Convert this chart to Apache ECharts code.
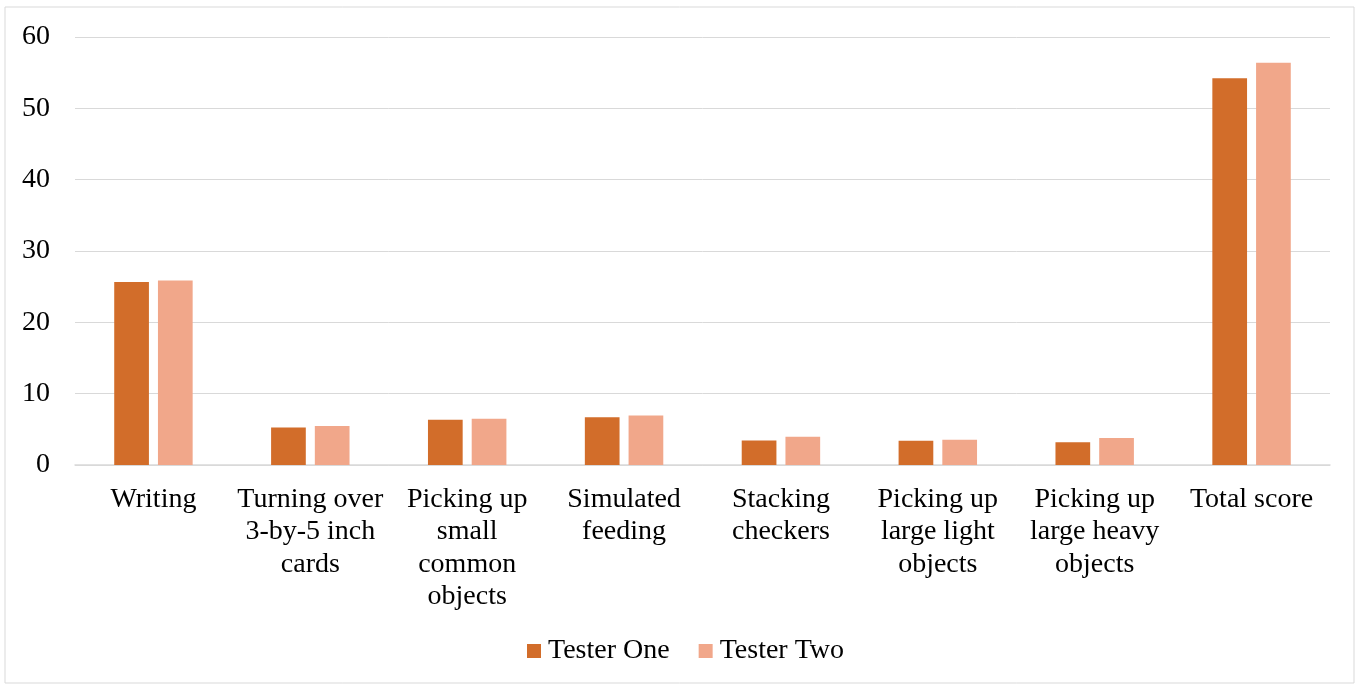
<!DOCTYPE html>
<html>
<head>
<meta charset="utf-8">
<script src="https://cdn.jsdelivr.net/npm/echarts@6/dist/echarts.min.js"></script>
<style>
  html, body { margin: 0; padding: 0; background: #fff; }
  #chart { width: 1359px; height: 686px; }
</style>
</head>
<body>
<div id="chart"></div>
<script>
// Task categories (line breaks as shown under the axis)
const categories = [
  'Writing',
  'Turning over\n3-by-5 inch\ncards',
  'Picking up\nsmall\ncommon\nobjects',
  'Simulated\nfeeding',
  'Stacking\ncheckers',
  'Picking up\nlarge light\nobjects',
  'Picking up\nlarge heavy\nobjects',
  'Total score'
];

// Mean scores per tester
const testerOne = [25.65, 5.25, 6.35, 6.7, 3.45, 3.4, 3.2, 54.2];
const testerTwo = [25.85, 5.45, 6.5, 6.95, 3.95, 3.55, 3.8, 56.4];

// Value axis range
const yMin = 0;
const yMax = 60;
const yStep = 10;

const FONT = '"Liberation Serif", "Times New Roman", serif';

const chart = echarts.init(document.getElementById('chart'));
chart.setOption({
  backgroundColor: '#fff',
  animation: false,
  graphic: [{
    type: 'rect',
    shape: { x: 5, y: 7, width: 1349, height: 676 },
    style: { fill: 'none', stroke: '#D9D9D9', lineWidth: 1 },
    silent: true
  }],
  grid: { left: 75, right: 29, top: 37, bottom: 221 },
  legend: {
    bottom: 16,
    left: 522,
    itemWidth: 14,
    itemHeight: 14,
    itemGap: 29,
    icon: 'rect',
    textStyle: { fontFamily: FONT, fontSize: 28, color: '#000', padding: [0, 0, 0, 2] },
    data: ['Tester One', 'Tester Two']
  },
  xAxis: {
    type: 'category',
    data: categories,
    axisLine: { lineStyle: { color: '#D9D9D9', width: 1.5 } },
    axisTick: { show: false },
    axisLabel: {
      interval: 0,
      margin: 18,
      fontFamily: FONT,
      fontSize: 28,
      lineHeight: 32.5,
      color: '#000'
    }
  },
  yAxis: {
    type: 'value',
    min: yMin,
    max: yMax,
    interval: yStep,
    axisLine: { show: false },
    axisTick: { show: false },
    splitLine: { lineStyle: { color: '#D9D9D9', width: 1 } },
    axisLabel: {
      margin: 25,
      fontFamily: FONT,
      fontSize: 28,
      color: '#000'
    }
  },
  series: [
    {
      name: 'Tester One',
      type: 'bar',
      data: testerOne,
      barGap: '26%',
      barCategoryGap: '50%',
      itemStyle: { color: '#D26D2A' }
    },
    {
      name: 'Tester Two',
      type: 'bar',
      data: testerTwo,
      barGap: '26%',
      barCategoryGap: '50%',
      itemStyle: { color: '#F1A78A' }
    }
  ]
});
</script>
</body>
</html>
